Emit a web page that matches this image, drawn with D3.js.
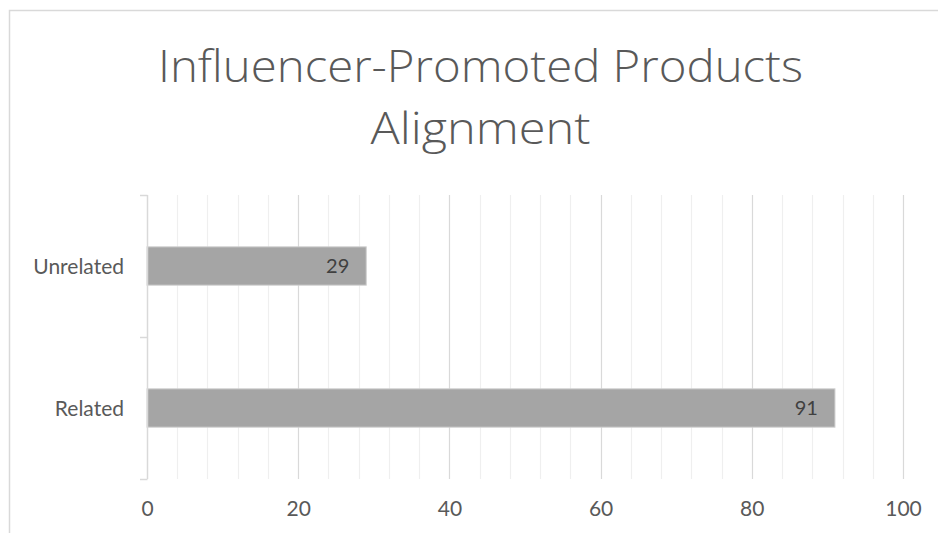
<!DOCTYPE html>
<html>
<head>
<meta charset="utf-8">
<script src="https://cdn.jsdelivr.net/npm/d3@7"></script>
<style>
  html, body { margin: 0; padding: 0; background: #fff; }
  svg { display: block; font-family: Lato, "Open Sans", sans-serif; }
</style>
</head>
<body>
<svg id="chart" width="938" height="533"></svg>
<script>
"use strict";

// chart data
const titleLines = ["Influencer-Promoted Products", "Alignment"];
const categories = ["Unrelated", "Related"];
const values = [29, 91];
const xTicks = [0, 20, 40, 60, 80, 100];
const xMinorTicks = d3.range(0, 101, 4);

const svg = d3.select("#chart");
const margin = {top: 195, right: 35, bottom: 54, left: 147};
const width = 938 - margin.left - margin.right;
const height = 533 - margin.top - margin.bottom;

/* chart area border (cropped on right and bottom) */
svg.append("rect")
    .attr("x", 9.5).attr("y", 10.5)
    .attr("width", 960).attr("height", 560)
    .attr("fill", "none")
    .attr("stroke", "#d9d9d9")
    .attr("stroke-width", 1.5);

/* title */
svg.append("g").selectAll("text")
    .data(titleLines)
    .enter().append("text")
    .attr("x", 480.5)
    .attr("y", (d, i) => 82 + i * 62)
    .attr("text-anchor", "middle")
    .attr("fill", "#595959")
    .attr("font-family", "\"Open Sans\", sans-serif")
    .attr("font-size", 45)
    .attr("font-weight", 300)
    .attr("textLength", (d, i) => i === 0 ? 645 : 220)
    .attr("lengthAdjust", "spacingAndGlyphs")
    .text(d => d);

const g = svg.append("g").attr("transform", `translate(${margin.left},${margin.top})`);

const xScale = d3.scaleLinear().domain([0, 100]).range([0, width]);
const yScale = d3.scaleBand().domain(categories).range([0, height]).paddingInner(0.73).paddingOuter(0.365);
const bandScale = d3.scaleBand().domain(categories).range([0, height]);

/* minor gridlines */
g.append("g").selectAll("line")
    .data(xMinorTicks.filter(d => d % 20 !== 0))
    .enter().append("line")
    .attr("x1", d => Math.round(xScale(d)) + 0.5)
    .attr("x2", d => Math.round(xScale(d)) + 0.5)
    .attr("y1", 0).attr("y2", height)
    .attr("stroke", "#efefef").attr("stroke-width", 1.2);

/* major gridlines */
g.append("g").selectAll("line")
    .data(xTicks.filter(d => d > 0))
    .enter().append("line")
    .attr("x1", d => Math.round(xScale(d)) + 0.5)
    .attr("x2", d => Math.round(xScale(d)) + 0.5)
    .attr("y1", 0).attr("y2", height)
    .attr("stroke", "#d9d9d9").attr("stroke-width", 1.2);

/* bars */
g.append("g").selectAll("rect")
    .data(values)
    .enter().append("rect")
    .attr("x", 0)
    .attr("y", (d, i) => yScale(categories[i]))
    .attr("width", d => xScale(d))
    .attr("height", yScale.bandwidth())
    .attr("fill", "#a5a5a5")
    .attr("stroke", "#d0d0d0")
    .attr("stroke-width", 1);

/* data labels */
g.append("g").selectAll("text")
    .data(values)
    .enter().append("text")
    .attr("x", d => xScale(d) - 17)
    .attr("y", (d, i) => yScale(categories[i]) + yScale.bandwidth() / 2)
    .attr("dy", "0.36em")
    .attr("text-anchor", "end")
    .attr("fill", "#404040")
    .attr("font-size", 20)
    .text(d => d);

/* y axis with category boundary ticks */
const yAxisG = g.append("g");
yAxisG.append("line")
    .attr("x1", 0.5).attr("x2", 0.5)
    .attr("y1", 0).attr("y2", height)
    .attr("stroke", "#d9d9d9").attr("stroke-width", 1.5);
yAxisG.selectAll(".bound")
    .data([0].concat(categories.map(c => bandScale(c) + bandScale.bandwidth())))
    .enter().append("line")
    .attr("class", "bound")
    .attr("x1", -7).attr("x2", 0.5)
    .attr("y1", d => Math.round(d) + 0.5).attr("y2", d => Math.round(d) + 0.5)
    .attr("stroke", "#d9d9d9").attr("stroke-width", 1.5);
yAxisG.selectAll(".rowLabel")
    .data(categories)
    .enter().append("text")
    .attr("class", "rowLabel")
    .attr("x", -23)
    .attr("y", d => yScale(d) + yScale.bandwidth() / 2)
    .attr("dy", "0.36em")
    .attr("text-anchor", "end")
    .attr("fill", "#595959")
    .attr("font-size", 21)
    .text(d => d);

/* x axis labels */
const xAxis = d3.axisBottom(xScale).tickValues(xTicks).tickSize(0).tickPadding(22);
const xAxisG = g.append("g")
    .attr("transform", `translate(0,${height})`)
    .call(xAxis);
xAxisG.select(".domain").remove();
xAxisG.selectAll("text")
    .attr("fill", "#595959")
    .attr("font-size", 21)
    .attr("font-family", "Lato, \"Open Sans\", sans-serif");
</script>
</body>
</html>
